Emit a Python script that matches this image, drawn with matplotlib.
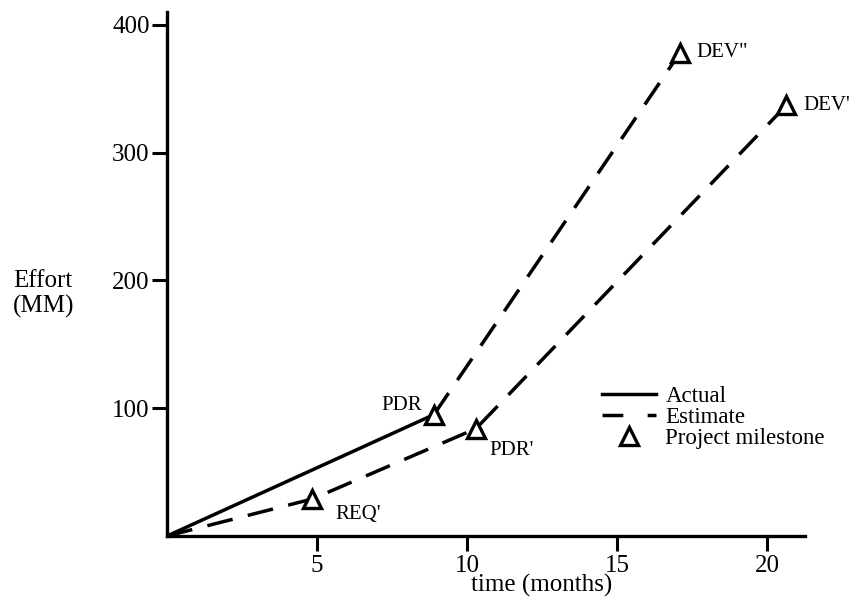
import matplotlib
matplotlib.use("Agg")
import matplotlib.pyplot as plt
from matplotlib.lines import Line2D

plt.rcParams['font.family'] = ['Liberation Serif', 'DejaVu Serif']

# ---- data (months, man-months) ----
actual_t = [0, 8.9]
actual_e = [0, 95]

estimate1_t = [0, 4.85, 10.3, 20.65]      # origin -> REQ' -> PDR' -> DEV'
estimate1_e = [0, 29, 84, 337]
estimate2_t = [8.9, 17.1]                 # PDR -> DEV''
estimate2_e = [95, 378]

milestone_names = ["REQ'", "PDR", "PDR'", "DEV''", "DEV'"]
milestone_t = [4.85, 8.9, 10.3, 17.1, 20.65]
milestone_e = [29, 95, 84, 378, 337]

xticks = [5, 10, 15, 20]
yticks = [100, 200, 300, 400]

W, H = 857, 604
fig = plt.figure(figsize=(W / 100, H / 100), dpi=100)
ax = fig.add_axes([167 / W, (H - 536) / H, (805 - 167) / W, (536 - 12) / H])
ax.set_xlim(0, 21.27)
ax.set_ylim(0, 410)

lw = 2.5
ax.plot(actual_t, actual_e, color='black', lw=lw, solid_capstyle='butt', zorder=2)
ax.plot(estimate1_t, estimate1_e, color='black', lw=lw, dashes=(7.5, 4.5), zorder=2)
ax.plot(estimate2_t, estimate2_e, color='black', lw=lw, dashes=(7.5, 4.5), zorder=2)
ax.plot(milestone_t, milestone_e, linestyle='none', marker='^', ms=13.5,
        mfc='white', mec='black', mew=2.4, zorder=3, clip_on=False)

offsets = {
    "REQ'": ((16.5, -11), 'left'),
    "PDR": ((-8.5, 6.5), 'right'),
    "PDR'": ((10, -16), 'left'),
    "DEV''": ((12, 0), 'left'),
    "DEV'": ((12, 0), 'left'),
}
for name, t, e in zip(milestone_names, milestone_t, milestone_e):
    off, ha = offsets[name]
    ax.annotate(name.replace("''", '"'), (t, e), xytext=off, textcoords='offset points',
                ha=ha, va='center', fontsize=15, annotation_clip=False)

for s in ['top', 'right']:
    ax.spines[s].set_visible(False)
for s in ['left', 'bottom']:
    ax.spines[s].set_linewidth(2.4)

ax.set_xticks(xticks)
ax.set_yticks(yticks)
ax.set_xticklabels([str(v) for v in xticks])
ax.set_yticklabels([str(v) for v in yticks])
ax.tick_params(axis='both', direction='out', length=11, width=2.2, labelsize=18)
ax.tick_params(axis='y', pad=1.5)
ax.tick_params(axis='x', pad=3)

ax.set_xlabel('time (months)', fontsize=18)
ax.xaxis.set_label_coords((542 - 167) / (805 - 167), (536 - 585) / (536 - 12))
ax.xaxis.label.set_va('center')

fig.text(13 / W, 1 - 294 / H, 'Effort\n(MM)', ha='left', va='center',
         fontsize=18, linespacing=1.2)

handles = [
    Line2D([], [], color='black', lw=lw),
    Line2D([], [], color='black', lw=lw, dashes=(6, 7)),
    Line2D([], [], linestyle='none', marker='^', ms=13.5, mfc='white',
           mec='black', mew=2.4),
]
labels = ['Actual', 'Estimate', 'Project milestone']
ax.legend(handles, labels, loc='upper left', bbox_to_anchor=(602 / W, 1 - 386 / H),
          bbox_transform=fig.transFigure, frameon=False, fontsize=16.5,
          handlelength=2.35, handletextpad=0.42, labelspacing=0.0,
          borderpad=0, borderaxespad=0)

fig.savefig('out.png', dpi=100)
